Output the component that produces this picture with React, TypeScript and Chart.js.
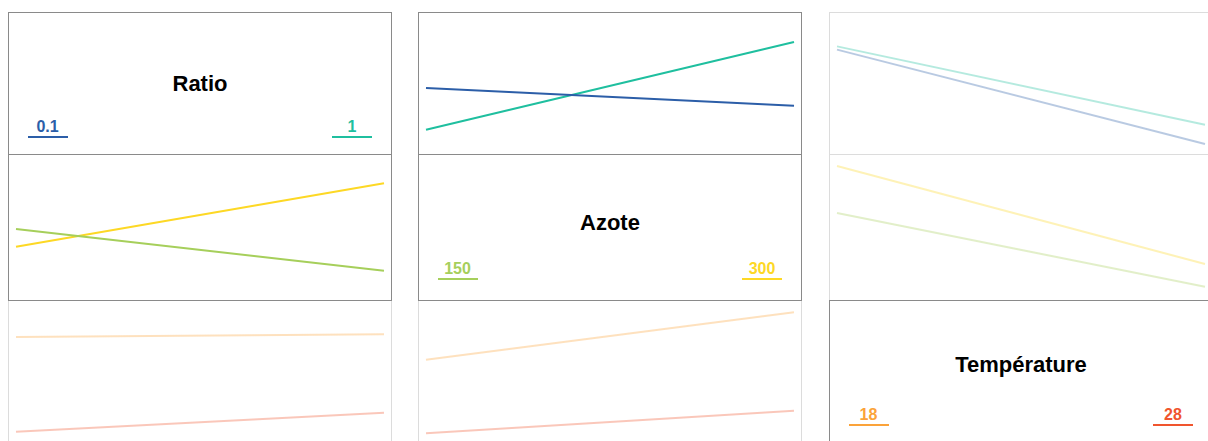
import React, { useEffect, useRef } from "react";
import { Chart, registerables } from "chart.js";

Chart.register(...registerables);

// ---- Data ----
const factorNames = ["Ratio", "Azote", "Température"];
const ratioLevels = ["0.1", "1"];
const azoteLevels = ["150", "300"];
const tempLevels = ["18", "28"];

const ratioColors = ["#2c5ea8", "#1fbf9f"];
const azoteColors = ["#a6cf5b", "#fdd825"];
const tempColors = ["#fba33a", "#f0552e"];

// Mean response (0-100 scale) read off each interaction cell: [at low x level, at high x level]
// Row Ratio (lines = Ratio levels)
const ratioVsAzote_01 = [46.5, 34.0];
const ratioVsAzote_1 = [17.1, 78.9];
const ratioVsTemp_01 = [73.5, 7.0];
const ratioVsTemp_1 = [75.8, 20.6];
// Row Azote (lines = Azote levels)
const azoteVsRatio_150 = [48.6, 20.1];
const azoteVsRatio_300 = [36.5, 79.9];
const azoteVsTemp_150 = [59.6, 9.1];
const azoteVsTemp_300 = [91.8, 24.7];
// Row Température (lines = Température levels)
const tempVsRatio_18 = [74.7, 76.5];
const tempVsRatio_28 = [9.8, 22.8];
const tempVsAzote_18 = [59.1, 91.6];
const tempVsAzote_28 = [8.7, 24.2];

const levels = [ratioLevels, azoteLevels, tempLevels];
const colors = [ratioColors, azoteColors, tempColors];

// cellData[row][col] = [series for row level 1, series for row level 2]
const cellData: (number[][] | null)[][] = [
  [null, [ratioVsAzote_01, ratioVsAzote_1], [ratioVsTemp_01, ratioVsTemp_1]],
  [[azoteVsRatio_150, azoteVsRatio_300], null, [azoteVsTemp_150, azoteVsTemp_300]],
  [[tempVsRatio_18, tempVsRatio_28], [tempVsAzote_18, tempVsAzote_28], null],
];

// highlighted factors (others faded)
const highlighted = [0, 1];

// ---- Layout ----
const colLeft = [8, 418, 829];
const cellWidth = 384;
const rowTop = [12, 154, 300];
const rowHeight = [142, 146, 146];
const titleBaseline = [80, 77, 73];
const FONT = '"Liberation Sans", Arial, Helvetica, sans-serif';

function withAlpha(hex: string, a: number) {
  const n = parseInt(hex.slice(1), 16);
  return `rgba(${(n >> 16) & 255},${(n >> 8) & 255},${n & 255},${a})`;
}

function isActive(r: number, c: number) {
  if (r === c) return true;
  return highlighted.includes(r) && highlighted.includes(c);
}

function LineCell({ r, c }: { r: number; c: number }) {
  const ref = useRef<HTMLCanvasElement>(null);
  const width = cellWidth;
  const height = rowHeight[r];
  useEffect(() => {
    const series = cellData[r][c]!;
    const active = isActive(r, c);
    const chart = new Chart(ref.current!, {
      type: "line",
      data: {
        labels: levels[c],
        datasets: series.map((d, i) => ({
          label: levels[r][i],
          data: d,
          borderColor: active ? colors[r][i] : withAlpha(colors[r][i], 0.33),
          borderWidth: 2,
          pointRadius: 0,
          fill: false,
          tension: 0,
          clip: false as any,
        })),
      },
      options: {
        animation: false,
        responsive: false,
        maintainAspectRatio: false,
        events: [],
        layout: { padding: { left: 8, right: 8, top: 0, bottom: 0 } },
        plugins: { legend: { display: false }, tooltip: { enabled: false } },
        scales: {
          x: { type: "category", display: false, offset: false },
          y: { type: "linear", display: false, min: 0, max: 100 },
        },
      },
    });
    return () => chart.destroy();
  }, [r, c]);
  return (
    <canvas
      ref={ref}
      width={width}
      height={height}
      style={{ position: "absolute", left: colLeft[c], top: rowTop[r], width, height }}
    />
  );
}

function DiagCell({ i }: { i: number }) {
  const left = colLeft[i];
  const top = rowTop[i];
  const titleSize = 22;
  const labelSize = 16;
  const labelBaseline = 120;
  const lineTop = 124;
  const labelCenters = [39.5, cellWidth - 40];
  return (
    <div style={{ position: "absolute", left, top, width: cellWidth, height: rowHeight[i], fontFamily: FONT }}>
      <div
        style={{
          position: "absolute",
          left: 0,
          width: cellWidth,
          top: titleBaseline[i] - 18.6,
          textAlign: "center",
          fontSize: titleSize,
          lineHeight: `${titleSize}px`,
          fontWeight: "bold",
          color: "#000",
          whiteSpace: "nowrap",
        }}
      >
        {factorNames[i]}
      </div>
      {levels[i].map((lv, k) => (
        <React.Fragment key={k}>
          <div
            style={{
              position: "absolute",
              left: labelCenters[k] - 30,
              width: 60,
              top: labelBaseline - 13.5,
              textAlign: "center",
              fontSize: labelSize,
              lineHeight: `${labelSize}px`,
              fontWeight: "bold",
              color: colors[i][k],
            }}
          >
            {lv}
          </div>
          <div
            style={{
              position: "absolute",
              left: labelCenters[k] - 20,
              width: 40,
              top: lineTop,
              height: 2,
              background: colors[i][k],
            }}
          />
        </React.Fragment>
      ))}
    </div>
  );
}

function Border({ r, c }: { r: number; c: number }) {
  const active = isActive(r, c);
  return (
    <div
      style={{
        position: "absolute",
        left: colLeft[c],
        top: rowTop[r],
        width: cellWidth,
        height: rowHeight[r] + 1,
        boxSizing: "border-box",
        border: `1px solid ${active ? "#8a8a8a" : "#dcdcdc"}`,
        pointerEvents: "none",
        zIndex: active ? 3 : 2,
      }}
    />
  );
}

export default function App() {
  const idx = [0, 1, 2];
  return (
    <div style={{ position: "fixed", left: 0, top: 0, width: 1208, height: 441, overflow: "hidden", background: "#fff" }}>
      {idx.map((r) =>
        idx.map((c) =>
          r === c ? <DiagCell key={`d${r}`} i={r} /> : <LineCell key={`l${r}${c}`} r={r} c={c} />
        )
      )}
      {idx.map((r) => idx.map((c) => <Border key={`b${r}${c}`} r={r} c={c} />))}
    </div>
  );
}
